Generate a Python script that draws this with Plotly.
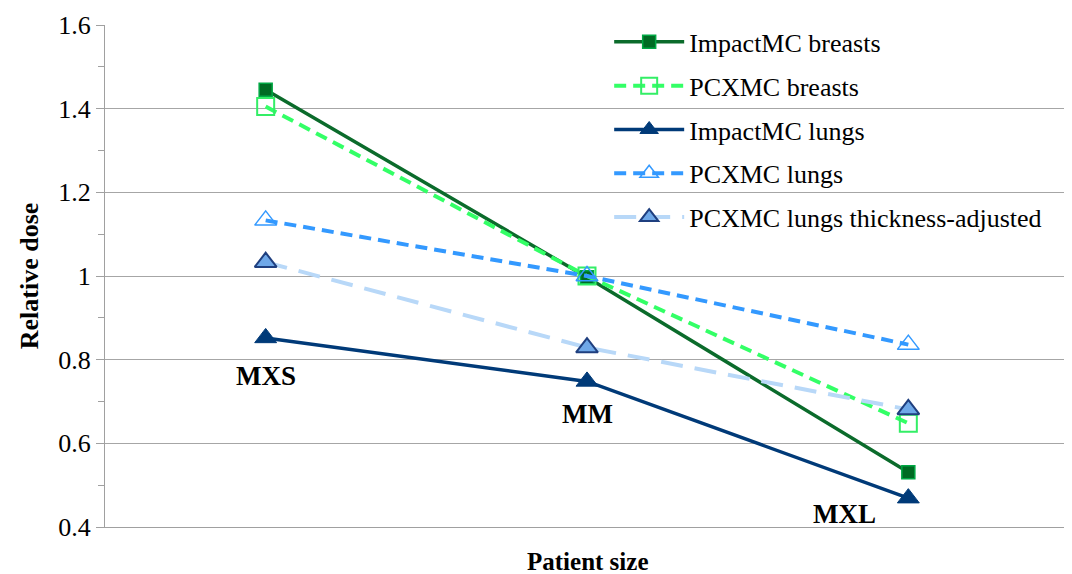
import plotly.graph_objects as go

categories = ["MXS", "MM", "MXL"]
impactmc_breasts = [1.445, 0.997, 0.531]
pcxmc_breasts = [1.405, 1.0, 0.648]
impactmc_lungs = [0.852, 0.748, 0.469]
pcxmc_lungs = [1.133, 1.0, 0.836]
pcxmc_lungs_adj = [1.033, 0.829, 0.681]

size_labels = ["MXS", "MM", "MXL"]
size_label_x = [0, 1, 1.8]
size_label_y = [0.76, 0.669, 0.431]

FONT = "Liberation Serif, DejaVu Serif, serif"
xs = [0, 1, 2]

fig = go.Figure()
series = [
    ("ImpactMC breasts", impactmc_breasts, dict(color="#0B6B2B", width=3.5, dash="solid"),
     dict(symbol="square", size=13, color="#006B23", line=dict(color="#00A844", width=1.5))),
    ("PCXMC breasts", pcxmc_breasts, dict(color="#33FF66", width=4, dash="12px,7px"),
     dict(symbol="square-open", size=17, color="#33EE66", line=dict(width=2))),
    ("ImpactMC lungs", impactmc_lungs, dict(color="#003A78", width=3.5, dash="solid"),
     dict(symbol="triangle-up", size=19, color="#003A78", line=dict(color="#003A78", width=1))),
    ("PCXMC lungs", pcxmc_lungs, dict(color="#3399FF", width=4, dash="12px,7px"),
     dict(symbol="triangle-up-open", size=19, color="#3399FF", line=dict(width=1.5))),
    ("PCXMC lungs thickness-adjusted", pcxmc_lungs_adj, dict(color="#B8D8F8", width=4, dash="22px,12px"),
     dict(symbol="triangle-up", size=19, color="#6FA8E8", line=dict(color="#1F3F7F", width=2))),
]
for i, (name, vals, ln, mk) in enumerate(series):
    fig.add_trace(go.Scatter(x=xs, y=vals, name=name, mode="lines+markers",
                             line=ln, marker=mk, legendgroup=f"g{i}"))

for lab, lx, ly in zip(size_labels, size_label_x, size_label_y):
    fig.add_annotation(x=lx, y=ly, text=f"<b>{lab}</b>", showarrow=False,
                       font=dict(family=FONT, size=27, color="black"))

fig.add_annotation(xref="paper", yref="paper", x=0.5, y=-0.1, yanchor="bottom",
                   text="<b>Patient size</b>", showarrow=False,
                   font=dict(family=FONT, size=25, color="black"))

fig.update_layout(
    width=1064, height=566,
    margin=dict(l=97, r=3, t=14, b=47),
    paper_bgcolor="white", plot_bgcolor="white",
    font=dict(family=FONT, size=24, color="black"),
    showlegend=True,
    legend=dict(x=0.523, y=1.013, xanchor="left", yanchor="top",
                bgcolor="rgba(0,0,0,0)", font=dict(family=FONT, size=26),
                tracegroupgap=7, itemwidth=70),
    xaxis=dict(range=[-0.5, 2.5], showticklabels=False, showgrid=False, zeroline=False,
               showline=True, linecolor="#A0A0A0", linewidth=1, ticks=""),
    yaxis=dict(range=[0.4, 1.6], dtick=0.2, showgrid=True,
               gridcolor="#A6A6A6", gridwidth=1, zeroline=False,
               showline=True, linecolor="#A0A0A0", linewidth=1,
               ticks="outside", ticklen=8, tickcolor="#A0A0A0",
               minor=dict(dtick=0.1, ticks="outside", ticklen=6, tickcolor="#A0A0A0", showgrid=False),
               tickfont=dict(family=FONT, size=26),
               title=dict(text="<b>Relative dose</b>", font=dict(family=FONT, size=26), standoff=12)),
)
fig.write_html("out.html")
